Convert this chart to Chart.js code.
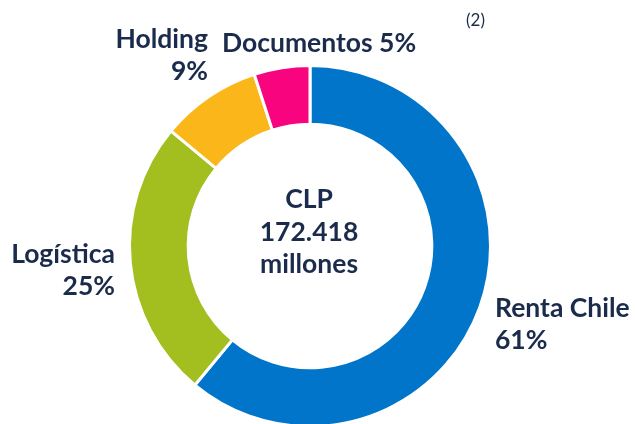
<!DOCTYPE html>
<html>
<head>
<meta charset="utf-8">
<script src="https://cdn.jsdelivr.net/npm/chart.js@4/dist/chart.umd.min.js"></script>
<style>
  html, body { margin: 0; padding: 0; background: #fff; overflow: hidden; }
  #wrap { position: absolute; left: 0; top: 0; width: 635px; height: 428px; }
</style>
</head>
<body>
<div id="wrap"><canvas id="grafico"></canvas></div>
<script>
// Datos
const categorias = ['Renta Chile', 'Logística', 'Holding', 'Documentos'];
const porcentajes = [61, 25, 9, 5];
const colores = ['#0075C9', '#A2BF1F', '#FBB71A', '#F9047F'];
const textoCentro = ['CLP', '172.418', 'millones'];
const nota = '(2)';

// Posición de las etiquetas (x, y de la línea base, alineación, una o dos líneas)
const etiquetas = [
    { x: 495, y: 317, align: 'left', dosLineas: true },
    { x: 115, y: 263, align: 'right', dosLineas: true },
    { x: 208, y: 48, align: 'right', dosLineas: true },
    { x: 222, y: 52, align: 'left', dosLineas: false }
];

const colorTexto = '#1B2B4B';

const pluginTextos = {
    id: 'textos',
    afterDraw(chart) {
        const ctx = chart.ctx;
        ctx.save();
        ctx.fillStyle = colorTexto;
        ctx.textBaseline = 'alphabetic';
        ctx.font = 'bold 26.5px Lato';

        // Etiquetas de cada segmento
        etiquetas.forEach((e, i) => {
            ctx.textAlign = e.align;
            const pct = porcentajes[i] + '%';
            if (e.dosLineas) {
                ctx.fillText(categorias[i], e.x, e.y);
                ctx.fillText(pct, e.x, e.y + 32);
            } else {
                ctx.fillText(categorias[i] + ' ' + pct, e.x, e.y);
            }
        });

        // Texto central
        const meta = chart.getDatasetMeta(0).data[0];
        ctx.textAlign = 'center';
        const lineasY = [208, 241, 273];
        textoCentro.forEach((t, i) => ctx.fillText(t, meta.x - 1, lineasY[i]));

        // Nota
        ctx.font = '17px Lato';
        ctx.textAlign = 'left';
        ctx.fillText(nota, 466, 26);
        ctx.restore();
    }
};

new Chart(document.getElementById('grafico'), {
    type: 'doughnut',
    data: {
        labels: categorias,
        datasets: [{
            data: porcentajes,
            backgroundColor: colores,
            borderColor: '#ffffff',
            borderWidth: 3,
            hoverOffset: 0
        }]
    },
    options: {
        responsive: true,
        maintainAspectRatio: false,
        animation: false,
        cutout: '67.5%',
        layout: {
            padding: { top: 64, bottom: 0, left: 128, right: 143 }
        },
        plugins: {
            legend: { display: false },
            tooltip: { enabled: false }
        }
    },
    plugins: [pluginTextos]
});
</script>
</body>
</html>
